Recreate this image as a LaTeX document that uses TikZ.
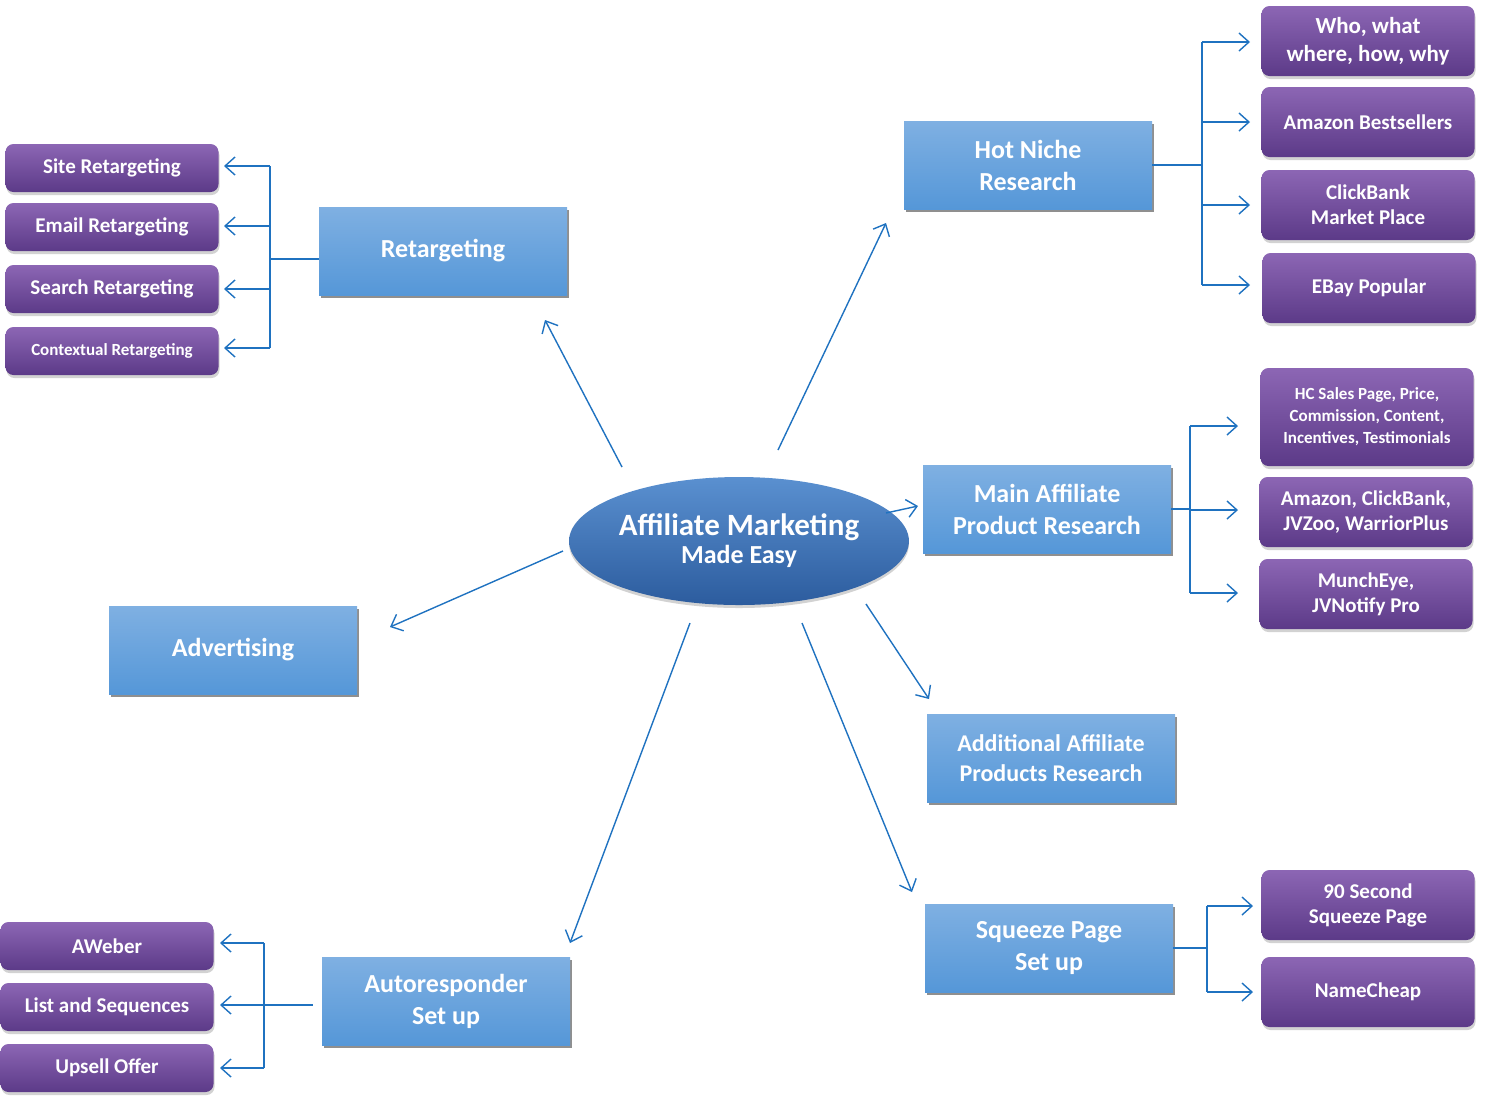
\documentclass[tikz,border=0pt]{standalone}
\usepackage{fontspec}
\setmainfont{Carlito}
\usetikzlibrary{shapes.geometric,shadows,arrows.meta}
\definecolor{btop}{HTML}{7FB0E2}
\definecolor{bbot}{HTML}{5597D8}
\definecolor{ptop}{HTML}{8C66B4}
\definecolor{pbot}{HTML}{5C3A88}
\definecolor{etop}{HTML}{5A90D0}
\definecolor{ebot}{HTML}{2C5C9E}
\definecolor{line}{HTML}{1F72C0}
\tikzset{
 bbox/.style={rectangle,rounded corners=0pt,minimum width=124pt,minimum height=44pt,top color=btop,bottom color=bbot,draw=none,
   drop shadow={shadow xshift=1pt,shadow yshift=-1.3pt,fill=black!55,opacity=0.8},
   text=white,font=\bfseries\fontsize{13}{16}\selectfont,align=center},
 pbox/.style={rectangle,rounded corners=4pt,minimum width=106.5pt,minimum height=35pt,top color=ptop,bottom color=pbot,draw=none,
   drop shadow={shadow xshift=0.5pt,shadow yshift=-1.5pt,fill=black!35},
   text=white,font=\bfseries\fontsize{10.5}{12.5}\selectfont,align=center,inner sep=1pt},
 lbox/.style={pbox,minimum height=24pt},
 conn/.style={draw=line,line width=0.7pt},
 arr/.style={conn,-{Straight Barb[length=5pt,width=9pt]}},
}
\begin{document}
\begin{tikzpicture}[x=0.5pt,y=-0.5pt]
\useasboundingbox (0,0) rectangle (1499,1100);
% center
\node[ellipse,inner sep=0pt,minimum width=154pt,minimum height=64pt,top color=etop,bottom color=ebot,
  drop shadow={shadow xshift=0pt,shadow yshift=-1.5pt,fill=black!35},text=white,align=center,
  font=\bfseries] (c) at (739,541) {{\fontsize{15.5}{18}\selectfont Affiliate Marketing}\\[2pt]{\fontsize{13}{16}\selectfont Made Easy}};
% blue boxes
\node[bbox] (hot) at (1028,165) {Hot Niche\\Research};
\node[bbox] (ret) at (443,251) {Retargeting};
\node[bbox] (main) at (1047,509) {Main Affiliate\\Product Research};
\node[bbox,font=\bfseries\fontsize{12}{15}\selectfont] (add) at (1051,758) {Additional Affiliate\\Products Research};
\node[bbox] (sq) at (1049,948) {Squeeze Page\\Set up};
\node[bbox] (adv) at (233,650) {Advertising};
\node[bbox] (auto) at (446,1001) {Autoresponder\\Set up};
% purple right
\node[pbox,font=\bfseries\fontsize{11.5}{14}\selectfont] (w) at (1368,41) {Who, what\\where, how, why};
\node[pbox] (ab) at (1368,122) {Amazon Bestsellers};
\node[pbox] (cb) at (1368,205) {ClickBank\\Market Place};
\node[pbox] (eb) at (1369,288) {EBay Popular};
\node[pbox,minimum height=49pt,font=\bfseries\fontsize{8.5}{11}\selectfont] (hc) at (1367,417) {HC Sales Page, Price,\\Commission, Content,\\Incentives, Testimonials};
\node[pbox] (az) at (1366,512) {Amazon, ClickBank,\\JVZoo, WarriorPlus};
\node[pbox] (mu) at (1366,594) {MunchEye,\\JVNotify Pro};
\node[pbox] (ns) at (1368,905) {90 Second\\Squeeze Page};
\node[pbox] (nc) at (1368,992) {NameCheap};
% purple left
\node[lbox] (s1) at (112,168) {Site Retargeting};
\node[lbox] (s2) at (112,227) {Email Retargeting};
\node[lbox] (s3) at (112,289) {Search Retargeting};
\node[lbox,font=\bfseries\fontsize{8.5}{10}\selectfont] (s4) at (112,351) {Contextual Retargeting};
\node[lbox] (a1) at (107,946) {AWeber};
\node[lbox] (a2) at (107,1007) {List and Sequences};
\node[lbox] (a3) at (107,1068) {Upsell Offer};
% trees
\draw[conn] (hot.east) -- (1202,165);
\draw[conn] (1202,42) -- (1202,285);
\foreach \y in {42,122,205,285} \draw[arr] (1202,\y) -- (1250,\y);
\draw[conn] (main.east) -- (1190,509);
\draw[conn] (1190,426) -- (1190,593);
\foreach \y in {426,510,593} \draw[arr] (1190,\y) -- (1238,\y);
\draw[conn] (sq.east) -- (1207,948);
\draw[conn] (1207,906) -- (1207,992);
\foreach \y in {906,992} \draw[arr] (1207,\y) -- (1253,\y);
\draw[conn] (ret.west) ++(0,8) -- (270,259);
\draw[conn] (270,166) -- (270,348);
\foreach \y in {166,226,289,348} \draw[arr] (270,\y) -- (224,\y);
\draw[conn] (auto.west) ++(-9,4) -- (264,1005);
\draw[conn] (264,943) -- (264,1068);
\foreach \y in {943,1005,1068} \draw[arr] (264,\y) -- (220,\y);
% center arrows
\coordinate (r1) at (622,467); \coordinate (r2) at (545,320);
\coordinate (h1) at (778,450); \coordinate (h2) at (886,223);
\coordinate (m1) at (886,513); \coordinate (m2) at (918,506);
\coordinate (d1) at (866,604); \coordinate (d2) at (929,699);
\coordinate (q1) at (802,623); \coordinate (q2) at (912,892);
\coordinate (u1) at (690,623); \coordinate (u2) at (570,943);
\coordinate (v1) at (563,551); \coordinate (v2) at (390,627);
\foreach \p in {r,h,m,d,q,u,v} \draw[arr] (\p1) -- (\p2);
\end{tikzpicture}
\end{document}
